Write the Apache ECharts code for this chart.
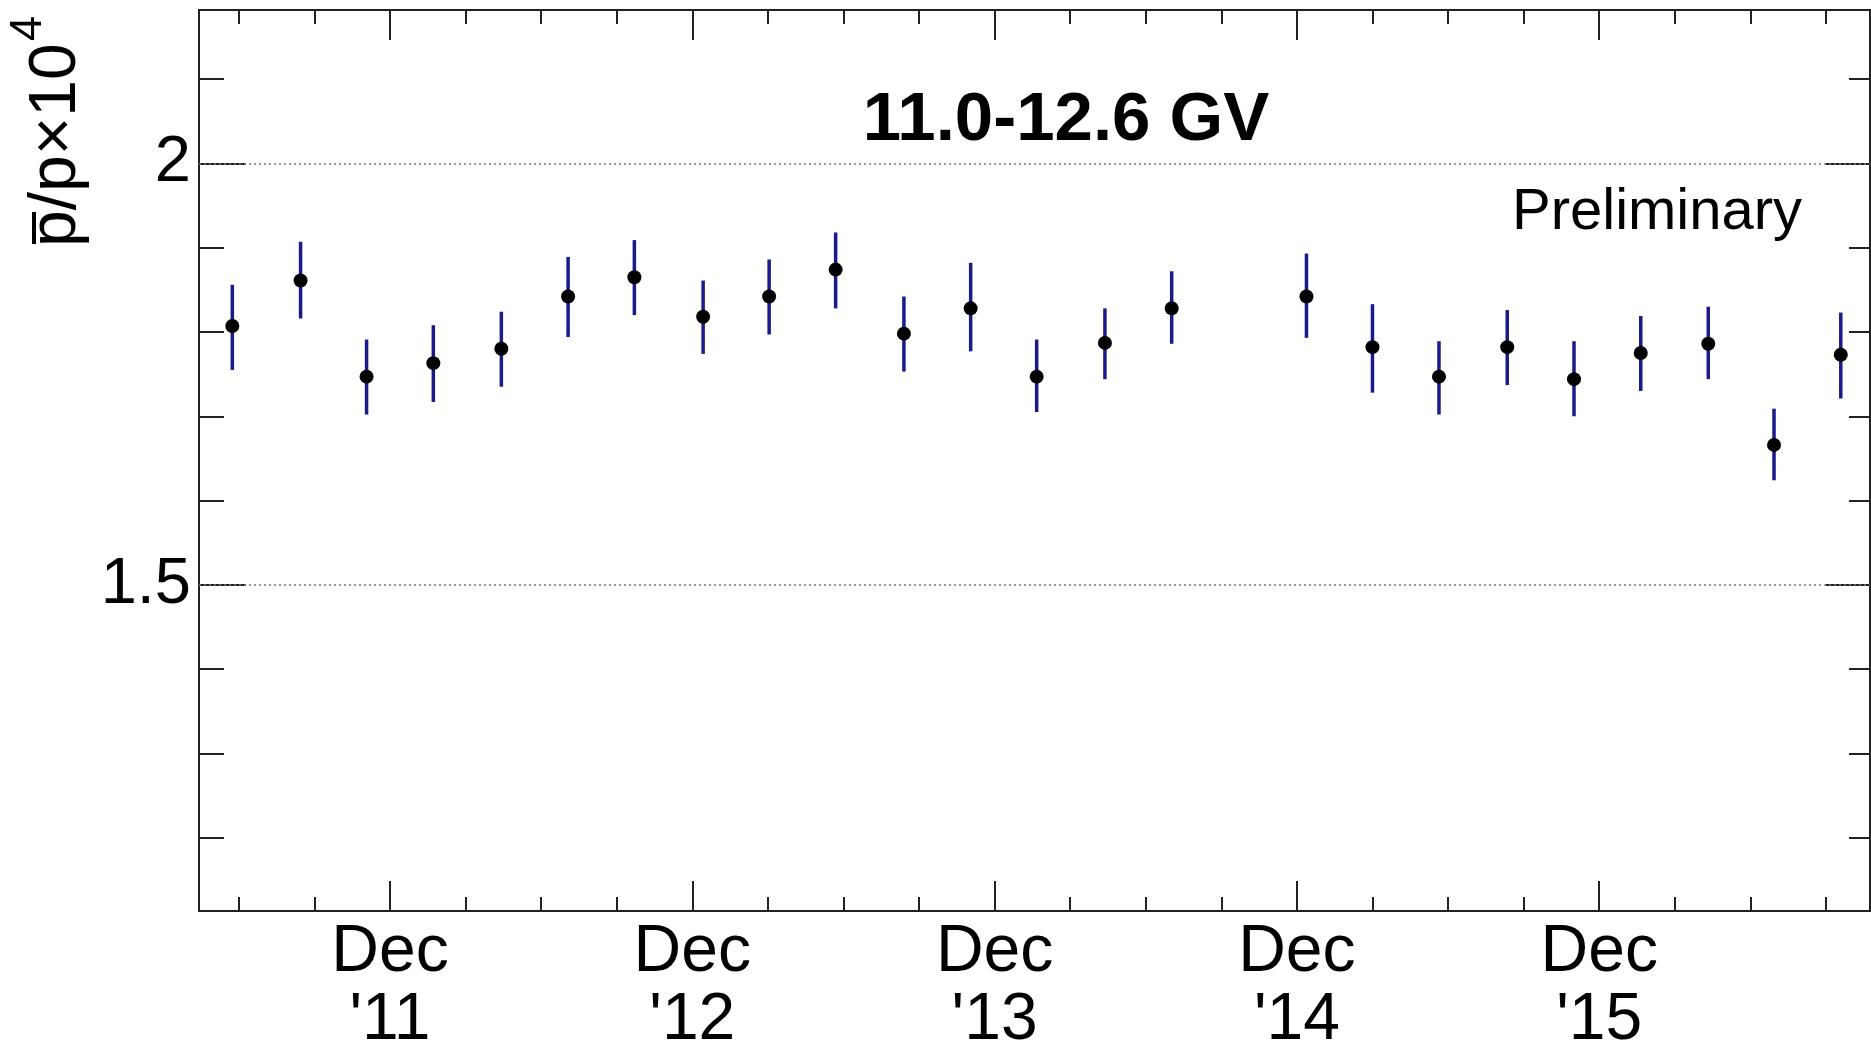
<!DOCTYPE html>
<html>
<head>
<meta charset="utf-8">
<script src="https://cdn.jsdelivr.net/npm/echarts@6/dist/echarts.min.js"></script>
<style>
  html, body { margin: 0; padding: 0; background: #fff; }
  #chart { width: 1871px; height: 1048px; }
</style>
</head>
<body>
<div id="chart"></div>
<script>
// x in months since Jan 2011 (Dec '11 = 11), one point per 3 Bartels rotations
const months = [4.74, 7.45, 10.07, 12.72, 15.42, 18.07, 20.70, 23.43, 26.05, 28.69, 31.40, 34.05,
    36.67, 39.38, 42.03, 47.38, 50.00, 52.64, 55.35, 58.00, 60.65, 63.33, 65.94, 68.59];
const ratio = [1.807, 1.861, 1.747, 1.763, 1.780, 1.842, 1.865, 1.818, 1.842, 1.874, 1.798, 1.828,
    1.747, 1.787, 1.828, 1.842, 1.782, 1.747, 1.782, 1.744, 1.775, 1.786, 1.666, 1.773];
const errLow = [1.755, 1.816, 1.702, 1.717, 1.735, 1.794, 1.820, 1.774, 1.797, 1.828, 1.753, 1.777,
    1.705, 1.744, 1.786, 1.793, 1.728, 1.702, 1.737, 1.700, 1.730, 1.744, 1.624, 1.721];
const errHigh = [1.856, 1.907, 1.791, 1.808, 1.824, 1.889, 1.909, 1.861, 1.886, 1.918, 1.842, 1.882,
    1.791, 1.828, 1.872, 1.893, 1.833, 1.789, 1.826, 1.789, 1.819, 1.830, 1.709, 1.823];

const decTicks = [11, 23, 35, 47, 59];
const decLabels = ["Dec\n'11", "Dec\n'12", "Dec\n'13", "Dec\n'14", "Dec\n'15"];
const quarterTicks = [5, 8, 14, 17, 20, 26, 29, 32, 38, 41, 44, 50, 53, 56, 62, 65, 68];
const yMajor = [1.5, 2];
const yMajorLabels = ['1.5', '2'];
const yMinor = [1.2, 1.3, 1.4, 1.6, 1.7, 1.8, 1.9, 2.1];

const X_MIN = 3.418, X_MAX = 69.75;
const Y_MIN = 1.113, Y_MAX = 2.182;
const FONT = "'Liberation Sans', Arial, Helvetica, sans-serif";
const AXIS_COLOR = '#222';
const BAR_COLOR = '#1a1a8a';

function xAxisDef(position, ticks, len, labels) {
    return {
        type: 'value', position: position, min: X_MIN, max: X_MAX,
        axisLine: { show: true, onZero: false, lineStyle: { color: AXIS_COLOR, width: 2 } },
        axisTick: { show: true, inside: true, length: len, customValues: ticks,
            lineStyle: { color: AXIS_COLOR, width: 2 } },
        axisLabel: labels ? {
            show: true, customValues: decTicks, margin: 8,
            fontSize: 66, lineHeight: 68, color: '#000', fontFamily: FONT,
            formatter: v => decLabels[decTicks.indexOf(Math.round(v))] || ''
        } : { show: false },
        splitLine: { show: false }
    };
}

function yAxisDef(position, ticks, len, labels) {
    return {
        type: 'value', position: position, min: Y_MIN, max: Y_MAX,
        axisLine: { show: true, onZero: false, lineStyle: { color: AXIS_COLOR, width: 2 } },
        axisTick: { show: true, inside: true, length: len, customValues: ticks,
            lineStyle: { color: AXIS_COLOR, width: 2 } },
        axisLabel: labels ? {
            show: true, customValues: yMajor, margin: 8,
            fontSize: 65, color: '#000', fontFamily: FONT,
            formatter: v => yMajorLabels[yMajor.indexOf(Math.round(v * 10) / 10)] || ''
        } : { show: false },
        splitLine: { show: false }
    };
}

const chart = echarts.init(document.getElementById('chart'), null, { renderer: 'canvas' });

chart.setOption({
    animation: false,
    backgroundColor: '#fff',
    grid: { left: 199, top: 10, right: 1, bottom: 137, outerBoundsMode: 'none', containLabel: false },
    xAxis: [
        xAxisDef('bottom', decTicks, 30, true),
        xAxisDef('bottom', quarterTicks, 14, false),
        xAxisDef('top', decTicks, 30, false),
        xAxisDef('top', quarterTicks, 14, false)
    ],
    yAxis: [
        yAxisDef('left', yMajor, 47, true),
        yAxisDef('left', yMinor, 25, false),
        yAxisDef('right', yMajor, 44, false),
        yAxisDef('right', yMinor, 21, false)
    ],
    graphic: [
        {
            // y axis title, reads bottom to top
            type: 'group', x: 80, y: 247, rotation: Math.PI / 2,
            children: [
                { type: 'text', x: 0, y: -23,
                  style: { text: 'p/p×10', font: '66px ' + FONT, fill: '#000',
                           align: 'left', verticalAlign: 'middle' } },
                { type: 'text', x: 206, y: -51,
                  style: { text: '4', font: '45px ' + FONT, fill: '#000',
                           align: 'left', verticalAlign: 'middle' } },
                { type: 'line', shape: { x1: 3, y1: -46, x2: 35, y2: -46 },
                  style: { stroke: '#000', lineWidth: 4 } }
            ]
        },
        {
            type: 'text', x: 1066, y: 121,
            style: { text: '11.0-12.6 GV', font: 'bold 69px ' + FONT, fill: '#000',
                     align: 'center', verticalAlign: 'middle' }
        },
        {
            type: 'text', x: 1512, y: 213,
            style: { text: 'Preliminary', font: '58px ' + FONT, fill: '#000',
                     align: 'left', verticalAlign: 'middle' }
        }
    ],
    series: [
        {
            type: 'custom',
            xAxisIndex: 0, yAxisIndex: 0,
            data: months.map((m, i) => [m, errLow[i], errHigh[i]]),
            encode: { x: 0, y: [1, 2] },
            renderItem: (params, api) => {
                const lo = api.coord([api.value(0), api.value(1)]);
                const hi = api.coord([api.value(0), api.value(2)]);
                return {
                    type: 'line',
                    shape: { x1: lo[0], y1: lo[1], x2: hi[0], y2: hi[1] },
                    style: { stroke: BAR_COLOR, lineWidth: 3.5 }
                };
            },
            z: 2
        },
        {
            type: 'scatter',
            xAxisIndex: 0, yAxisIndex: 0,
            data: months.map((m, i) => [m, ratio[i]]),
            symbol: 'circle', symbolSize: 14,
            itemStyle: { color: '#000', opacity: 1 },
            z: 3,
            markLine: {
                silent: true, symbol: 'none',
                label: { show: false },
                lineStyle: { type: [2, 3], color: '#777', width: 1.5 },
                data: yMajor.map(v => ({ yAxis: v })),
                z: 1
            }
        }
    ]
});
</script>
</body>
</html>
